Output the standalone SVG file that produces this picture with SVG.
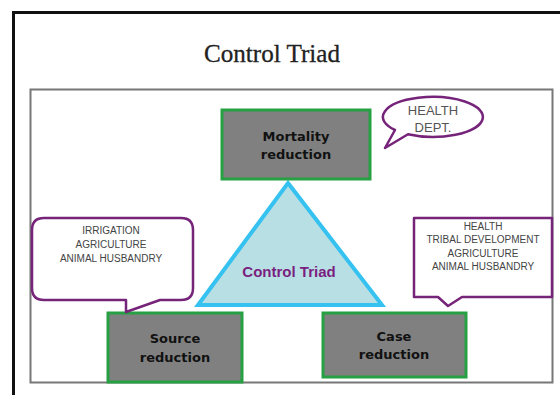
<svg xmlns="http://www.w3.org/2000/svg" width="560" height="395" viewBox="0 0 560 395">
  <style>
    .box { fill: #808080; stroke: #27a043; stroke-width: 3; }
    .boxlabel { font-family: "DejaVu Sans", sans-serif; font-weight: bold; font-size: 13px; fill: #111; text-anchor: middle; }
    .callout { fill: #ffffff; stroke: #76237a; stroke-width: 2.5; stroke-linejoin: round; }
    .calltext { font-family: "Liberation Sans", Arial, sans-serif; font-size: 10px; fill: #444; text-anchor: middle; }
    .calltext.big { font-size: 13px; fill: #555; }
  </style>

  <rect x="0" y="0" width="560" height="395" fill="#ffffff"/>

  <!-- slide frame and title -->
  <rect x="13.5" y="12.5" width="560" height="400" fill="none" stroke="#111" stroke-width="3"/>
  <text x="272" y="62" font-family="Liberation Serif, serif" font-size="25" fill="#222" stroke="#222" stroke-width="0.3" text-anchor="middle" textLength="136" lengthAdjust="spacingAndGlyphs">Control Triad</text>

  <!-- diagram panel -->
  <rect x="30.5" y="89.5" width="522" height="293" fill="#ffffff" stroke="#777" stroke-width="2"/>

  <!-- central triangle -->
  <g id="triad">
    <polygon points="288,183 382,305 198,305" fill="#b8dfe3" stroke="#35c2f0" stroke-width="4" stroke-linejoin="miter"/>
    <text x="289" y="277" font-family="Liberation Sans, Arial, sans-serif" font-weight="bold" font-size="15" fill="#7a1f7f" text-anchor="middle">Control Triad</text>
  </g>

  <!-- corner nodes -->
  <g id="mortality">
    <rect class="box" x="222" y="110" width="148" height="69"/>
    <text class="boxlabel" x="296" y="141">Mortality</text>
    <text class="boxlabel" x="296" y="159">reduction</text>
  </g>

  <g id="source">
    <rect class="box" x="108" y="313" width="134" height="69"/>
    <text class="boxlabel" x="175" y="343">Source</text>
    <text class="boxlabel" x="175" y="362">reduction</text>
  </g>

  <g id="case">
    <rect class="box" x="323" y="313" width="143" height="64"/>
    <text class="boxlabel" x="394" y="341">Case</text>
    <text class="boxlabel" x="394" y="359">reduction</text>
  </g>

  <!-- callouts -->
  <g id="health-dept">
    <path class="callout" d="M395,130 L385,148 L408,134.3 A50,20 0 1 0 395,130 Z"/>
    <text class="calltext big" x="433" y="115">HEALTH</text>
    <text class="calltext big" x="433" y="132">DEPT.</text>
  </g>

  <g id="source-agencies">
    <path class="callout" d="M44,218 H181 Q193,218 193,230 V288 Q193,300 181,300 H160 L126,312 V300 H44 Q32,300 32,288 V230 Q32,218 44,218 Z"/>
    <text class="calltext" x="111" y="234">IRRIGATION</text>
    <text class="calltext" x="111" y="248">AGRICULTURE</text>
    <text class="calltext" x="111" y="262">ANIMAL HUSBANDRY</text>
  </g>

  <g id="case-agencies">
    <path class="callout" d="M414,218 H552 V297 H462 L448,306 L438,297 H414 Z"/>
    <text class="calltext" x="483" y="230">HEALTH</text>
    <text class="calltext" x="483" y="243">TRIBAL DEVELOPMENT</text>
    <text class="calltext" x="483" y="257">AGRICULTURE</text>
    <text class="calltext" x="483" y="270">ANIMAL HUSBANDRY</text>
  </g>

  <!-- connectors: the triad has no separate links; nodes touch the triangle corners -->
  <g id="connectors"></g>
</svg>
